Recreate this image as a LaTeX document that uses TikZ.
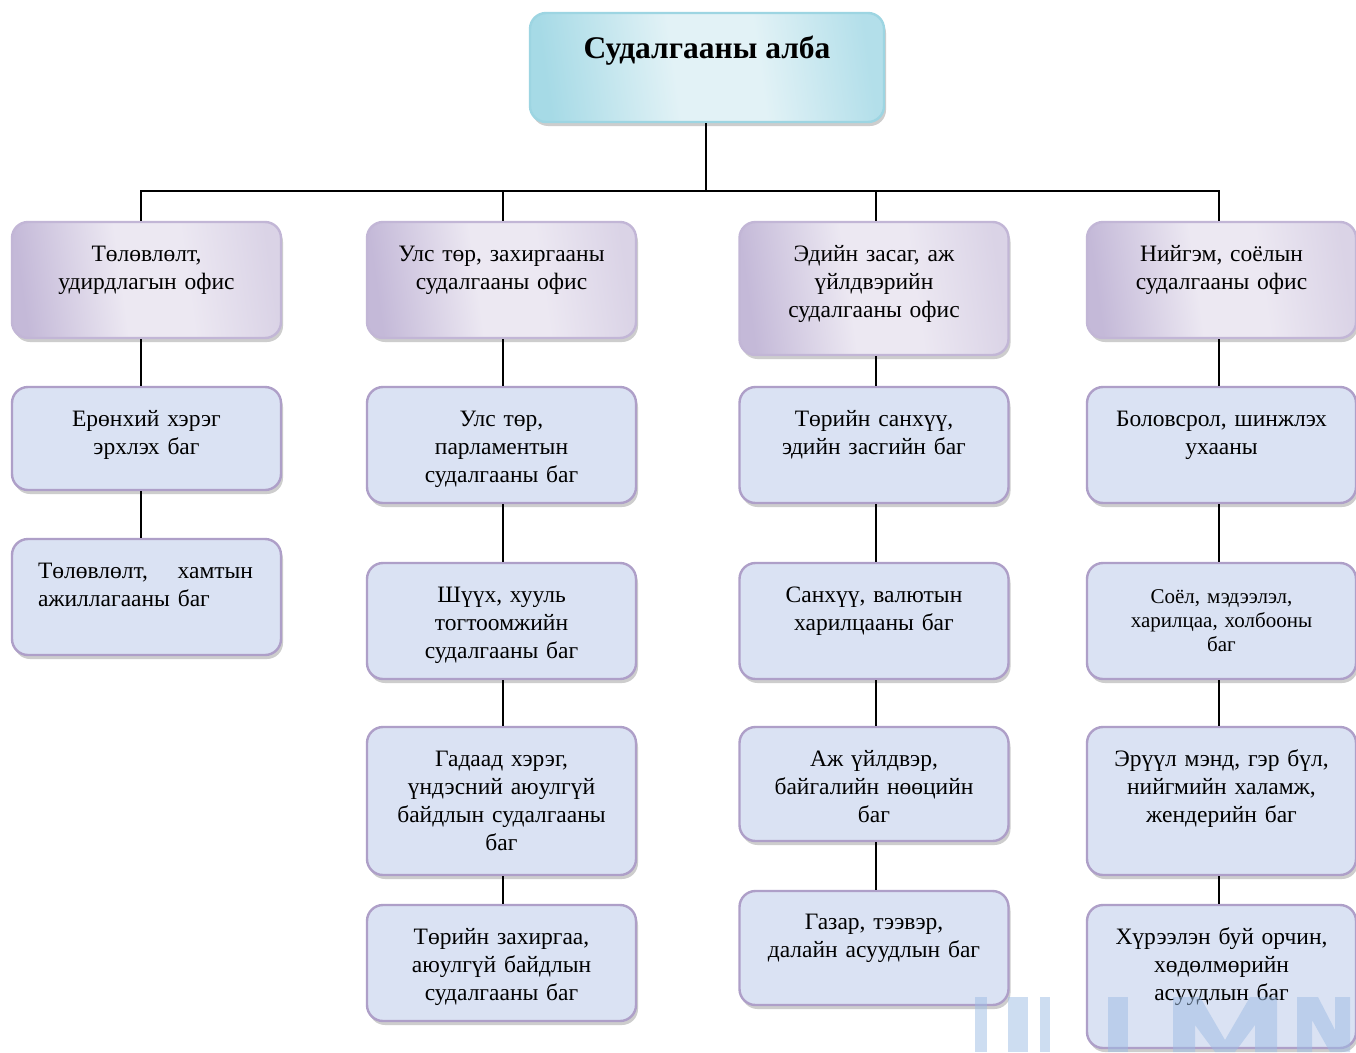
\documentclass[tikz,border=0pt]{standalone}
\usepackage{fontspec}
\setmainfont{Liberation Serif}
\usetikzlibrary{shadows}
\definecolor{bfill}{HTML}{DAE2F3}
\definecolor{bdraw}{HTML}{AE9FC8}
\definecolor{pdraw}{HTML}{C2B6D6}
\definecolor{pL}{HTML}{C4B9D8}
\definecolor{pM}{HTML}{ECE8F2}
\definecolor{pR}{HTML}{DAD3E6}
\definecolor{cdraw}{HTML}{9DD5E2}
\definecolor{cL}{HTML}{A6DAE6}
\definecolor{cM}{HTML}{E2F2F6}
\definecolor{cR}{HTML}{B3DFEA}
\definecolor{wm}{HTML}{9DBCE4}
\pgfdeclarehorizontalshading{pshade}{100bp}{color(0bp)=(pL); color(25bp)=(pL); color(45bp)=(pM); color(58bp)=(pM); color(75bp)=(pR); color(100bp)=(pR)}
\pgfdeclarehorizontalshading{cshade}{100bp}{color(0bp)=(cL); color(25bp)=(cL); color(45bp)=(cM); color(58bp)=(cM); color(75bp)=(cR); color(100bp)=(cR)}
\tikzset{
  x=1pt, y=-1pt,
  boxbase/.style={rectangle, rounded corners=16pt, line width=2.4pt, inner sep=0pt,
    drop shadow={shadow xshift=2pt, shadow yshift=-4pt, opacity=0.28, fill=black!70}},
  bbox/.style={boxbase, draw=bdraw, fill=bfill, minimum width=269},
  pbox/.style={boxbase, draw=pdraw, shading=pshade, shading angle=8, minimum width=269},
  cbox/.style={boxbase, draw=cdraw, shading=cshade, shading angle=8},
  txt/.style={anchor=base, inner sep=0pt, align=center, text width=250, font=\fontsize{23.5}{28}\selectfont},
  stxt/.style={txt, font=\fontsize{21}{24}\selectfont},
  conn/.style={line width=1.5pt, black},
}
\begin{document}
\begin{tikzpicture}
\useasboundingbox (0,0) rectangle (1356,1052);
\fill[white] (0,0) rectangle (1356,1052);
% top
\node[cbox, minimum width=354, minimum height=109] (top) at (707,67.5) {};
\node[anchor=base, inner sep=0pt, font=\fontsize{31.5}{36}\selectfont\bfseries] (topt) at (707,58) {Судалгааны алба};
% level 1
\node[pbox, minimum height=116] (p1) at (146.5,280) {};
\node[pbox, minimum height=116] (p2) at (501.5,280) {};
\node[pbox, minimum height=133] (p3) at (874,288.5) {};
\node[pbox, minimum height=116] (p4) at (1221.5,280) {};
\node[txt] (p1t) at (146.5,261) {Төлөвлөлт,\\удирдлагын офис};
\node[txt] (p2t) at (501.5,261) {Улс төр, захиргааны\\судалгааны офис};
\node[txt] (p3t) at (874,261) {Эдийн засаг, аж\\үйлдвэрийн\\судалгааны офис};
\node[txt] (p4t) at (1221.5,261) {Нийгэм, соёлын\\судалгааны офис};
% column 1
\node[bbox, minimum height=103] (b11) at (146.5,438.5) {};
\node[bbox, minimum height=116] (b12) at (146.5,597) {};
\node[txt] (b11t) at (146.5,426) {Ерөнхий хэрэг\\эрхлэх баг};
\node[txt, align=left, text width=215] (b12t) at (145.5,578) {Төлөвлөлт,\hfill хамтын\\ажиллагааны баг};
% column 2
\node[bbox, minimum height=116] (b21) at (501.5,445) {};
\node[bbox, minimum height=116] (b22) at (501.5,621) {};
\node[bbox, minimum height=148] (b23) at (501.5,801) {};
\node[bbox, minimum height=116] (b24) at (501.5,963) {};
\node[txt] (b21t) at (501.5,426) {Улс төр,\\парламентын\\судалгааны баг};
\node[txt] (b22t) at (501.5,602) {Шүүх, хууль\\тогтоомжийн\\судалгааны баг};
\node[txt] (b23t) at (501.5,766) {Гадаад хэрэг,\\үндэсний аюулгүй\\байдлын судалгааны\\баг};
\node[txt] (b24t) at (501.5,944) {Төрийн захиргаа,\\аюулгүй байдлын\\судалгааны баг};
% column 3
\node[bbox, minimum height=116] (b31) at (874,445) {};
\node[bbox, minimum height=116] (b32) at (874,621) {};
\node[bbox, minimum height=114] (b33) at (874,784) {};
\node[bbox, minimum height=114] (b34) at (874,948) {};
\node[txt] (b31t) at (874,426) {Төрийн санхүү,\\эдийн засгийн баг};
\node[txt] (b32t) at (874,602) {Санхүү, валютын\\харилцааны баг};
\node[txt] (b33t) at (874,766) {Аж үйлдвэр,\\байгалийн нөөцийн\\баг};
\node[txt] (b34t) at (874,929) {Газар, тээвэр,\\далайн асуудлын баг};
% column 4
\node[bbox, minimum height=116] (b41) at (1221.5,445) {};
\node[bbox, minimum height=116] (b42) at (1221.5,621) {};
\node[bbox, minimum height=148] (b43) at (1221.5,801) {};
\node[bbox, minimum height=143] (b44) at (1221.5,976.5) {};
\node[txt] (b41t) at (1221.5,426) {Боловсрол, шинжлэх\\ухааны};
\node[stxt] (b42t) at (1221.5,603) {Соёл, мэдээлэл,\\харилцаа, холбооны\\баг};
\node[txt] (b43t) at (1221.5,766) {Эрүүл мэнд, гэр бүл,\\нийгмийн халамж,\\жендерийн баг};
\node[txt] (b44t) at (1221.5,944) {Хүрээлэн буй орчин,\\хөдөлмөрийн\\асуудлын баг};
% connectors
\coordinate (bus) at (706,191);
\draw[conn] ([xshift=-1pt]top.south) -- (bus);
\draw[conn] ([xshift=-5.5pt]p1.north) |- (bus) -| ([xshift=-2.5pt]p4.north);
\draw[conn] ([xshift=1.5pt]p2.north) -- ([xshift=1.5pt]p2.north |- bus);
\draw[conn] ([xshift=2pt]p3.north) -- ([xshift=2pt]p3.north |- bus);
\draw[conn] ([xshift=-5.5pt]p1.south) -- ([xshift=-5.5pt]b11.north);
\draw[conn] ([xshift=-5.5pt]b11.south) -- ([xshift=-5.5pt]b12.north);
\draw[conn] ([xshift=1.5pt]p2.south) -- ([xshift=1.5pt]b21.north);
\draw[conn] ([xshift=1.5pt]b21.south) -- ([xshift=1.5pt]b22.north);
\draw[conn] ([xshift=1.5pt]b22.south) -- ([xshift=1.5pt]b23.north);
\draw[conn] ([xshift=1.5pt]b23.south) -- ([xshift=1.5pt]b24.north);
\draw[conn] ([xshift=2pt]p3.south) -- ([xshift=2pt]b31.north);
\draw[conn] ([xshift=2pt]b31.south) -- ([xshift=2pt]b32.north);
\draw[conn] ([xshift=2pt]b32.south) -- ([xshift=2pt]b33.north);
\draw[conn] ([xshift=2pt]b33.south) -- ([xshift=2pt]b34.north);
\draw[conn] ([xshift=-2.5pt]p4.south) -- ([xshift=-2.5pt]b41.north);
\draw[conn] ([xshift=-2.5pt]b41.south) -- ([xshift=-2.5pt]b42.north);
\draw[conn] ([xshift=-2.5pt]b42.south) -- ([xshift=-2.5pt]b43.north);
\draw[conn] ([xshift=-2.5pt]b43.south) -- ([xshift=-2.5pt]b44.north);
% watermark
\begin{scope}[fill=wm, fill opacity=0.5]
\fill (975,997) rectangle (987,1052);
\fill (1008,997) rectangle (1028,1052);
\fill (1040,997) rectangle (1050,1052);
\fill (1108,997) rectangle (1128,1052);
\fill (1173,1052) -- (1173,997) -- (1200,997) -- (1225,1040) -- (1250,997) -- (1277,997) -- (1277,1052) -- (1255,1052) -- (1255,1025) -- (1235,1052) -- (1215,1052) -- (1195,1025) -- (1195,1052) -- cycle;
\fill (1297,1052) -- (1297,997) -- (1318,997) -- (1335,1030) -- (1335,997) -- (1350,997) -- (1350,1052) -- (1330,1052) -- (1312,1020) -- (1312,1052) -- cycle;
\end{scope}
\end{tikzpicture}
\end{document}
